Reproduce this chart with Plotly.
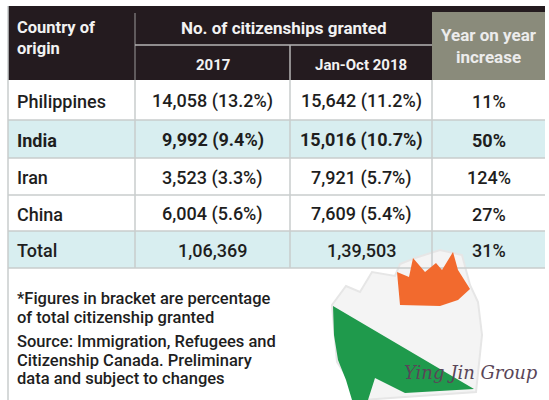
import plotly.graph_objects as go

# ---- data ----
countries = ["Philippines", "India", "Iran", "China", "Total"]
granted_2017 = [14058, 9992, 3523, 6004, 106369]
pct_2017 = [13.2, 9.4, 3.3, 5.6, None]
granted_2018 = [15642, 15016, 7921, 7609, 139503]
pct_2018 = [11.2, 10.7, 5.7, 5.4, None]
yoy_increase = [11, 50, 124, 27, 31]
highlight_rows = ["India", "Total"]
bold_rows = ["India"]

col_headers = ["2017", "Jan-Oct 2018"]
footnotes = [
    "*Figures in bracket are percentage",
    "of total citizenship granted",
    "Source: Immigration, Refugees and",
    "Citizenship Canada. Preliminary",
    "data and subject to changes",
]


def indian_format(n):
    s = str(n)
    if len(s) <= 3:
        return s
    last3 = s[-3:]
    rest = s[:-3]
    groups = []
    while len(rest) > 2:
        groups.insert(0, rest[-2:])
        rest = rest[:-2]
    if rest:
        groups.insert(0, rest)
    return ",".join(groups) + "," + last3


def cell(n, p):
    t = indian_format(n)
    if p is not None:
        t += f" ({p}%)"
    return t


# ---- layout geometry (pixels) ----
W, H = 549, 400
col_x = [8, 135, 290, 432, 545]
row_y = [80, 120, 158, 195, 231, 268]
HEADER_DARK = "#241b1f"
HEADER_GRAY = "#8a8b7b"
CYAN = "#d8eef0"
GRID = "#c9cccc"
TXT = "#1e1e1e"
HTXT = "#f2f2f2"
FONT = "Roboto, 'Noto Sans', sans-serif"

fig = go.Figure()
shapes = []
ann = []

# header backgrounds
shapes.append(dict(type="rect", x0=col_x[0], x1=col_x[4], y0=6, y1=80,
                   fillcolor=HEADER_DARK, line_width=0, layer="below"))
shapes.append(dict(type="rect", x0=col_x[3], x1=col_x[4], y0=12, y1=80,
                   fillcolor=HEADER_GRAY, line_width=0, layer="below"))
# header dividers
shapes.append(dict(type="line", x0=col_x[1], x1=col_x[1], y0=13, y1=80,
                   line=dict(color="#9a9a9a", width=1)))
shapes.append(dict(type="line", x0=col_x[1], x1=col_x[3], y0=45, y1=45,
                   line=dict(color="#b5b5b5", width=1.5)))
shapes.append(dict(type="line", x0=col_x[2], x1=col_x[2], y0=45, y1=80,
                   line=dict(color="#b5b5b5", width=1.5)))

# data row backgrounds
for i, c in enumerate(countries):
    if c in highlight_rows:
        shapes.append(dict(type="rect", x0=col_x[0], x1=col_x[4], y0=row_y[i], y1=row_y[i + 1],
                           fillcolor=CYAN, line_width=0, layer="below"))
# grid lines
for y in row_y[1:]:
    shapes.append(dict(type="line", x0=col_x[0], x1=col_x[4], y0=y, y1=y,
                       line=dict(color=GRID, width=1.5)))
for x in col_x[1:4]:
    shapes.append(dict(type="line", x0=x, x1=x, y0=80, y1=268,
                       line=dict(color=GRID, width=1.5)))
shapes.append(dict(type="line", x0=col_x[0], x1=col_x[0], y0=6, y1=400,
                   line=dict(color=GRID, width=1.5)))

# header text
ann += [
    dict(x=15, y=38, text="<b>Country of<br>origin</b>", xanchor="left", align="left",
         font=dict(size=16.5, color=HTXT)),
    dict(x=(col_x[1] + col_x[3]) / 2, y=28, text="<b>No. of citizenships granted</b>",
         font=dict(size=17, color=HTXT)),
    dict(x=(col_x[1] + col_x[2]) / 2, y=65, text=f"<b>{col_headers[0]}</b>",
         font=dict(size=15, color=HTXT)),
    dict(x=(col_x[2] + col_x[3]) / 2, y=65, text=f"<b>{col_headers[1]}</b>",
         font=dict(size=15, color=HTXT)),
    dict(x=(col_x[3] + col_x[4]) / 2, y=46, text="<b>Year on year<br>increase</b>",
         font=dict(size=17, color="#ececec")),
]

# data text
for i, c in enumerate(countries):
    yc = (row_y[i] + row_y[i + 1]) / 2 + 1
    wt = 700 if c in bold_rows else 500
    vals = [cell(granted_2017[i], pct_2017[i]), cell(granted_2018[i], pct_2018[i]),
            f"{yoy_increase[i]}%"]
    ann.append(dict(x=15, y=yc, text=c, xanchor="left",
                    font=dict(size=18, color=TXT, weight=wt)))
    for j, v in enumerate(vals):
        ann.append(dict(x=(col_x[j + 1] + col_x[j + 2]) / 2, y=yc, text=v,
                        font=dict(size=18, color=TXT, weight=wt)))

# maple leaf decoration
shapes.append(dict(type="path",
                   path="M 332 305 L 346 286 L 360 292 L 372 272 L 395 276 L 400 264 L 415 258 "
                        "L 440 250 L 462 255 L 470 285 L 478 302 L 482 335 L 476 392 L 362 400 "
                        "L 337 362 Z",
                   fillcolor="#f4f4f4", line=dict(color="#e6e6e6", width=2), layer="below"))
shapes.append(dict(type="path",
                   path="M 400 305 L 397 272 L 409 277 L 413 258 L 425 272 L 436 263 L 442 270 "
                        "L 453 252 L 458 270 L 470 289 L 458 300 L 440 306 Z",
                   fillcolor="#f26a2e", line_width=0))
shapes.append(dict(type="path",
                   path="M 333 306 L 474 389 L 405 393 L 375 378 L 368 400 L 352 400 L 346 380 "
                        "L 338 360 L 334 335 Z",
                   fillcolor="#1f9a4c", line_width=0))

ann.append(dict(x=540, y=372, text="<i>Ying Jin Group</i>", xanchor="right",
                font=dict(size=18, color="#5a4658", family="'DejaVu Serif', serif")))

# footnotes
foot_y = [298, 317, 341, 360, 378]
for t, y in zip(footnotes, foot_y):
    ann.append(dict(x=15, y=y, text=t, xanchor="left", font=dict(size=16.5, color=TXT, weight=500)))

for a in ann:
    a.setdefault("showarrow", False)
    a.setdefault("xref", "x")
    a.setdefault("yref", "y")
    a.setdefault("yanchor", "middle")
    a.setdefault("xanchor", "center")
    a["font"].setdefault("family", FONT)

fig.update_layout(
    width=W, height=H, margin=dict(l=0, r=0, t=0, b=0),
    paper_bgcolor="white", plot_bgcolor="white",
    xaxis=dict(range=[0, W], visible=False, fixedrange=True),
    yaxis=dict(range=[H, 0], visible=False, fixedrange=True),
    shapes=shapes, annotations=ann, showlegend=False,
)
fig.write_html("out.html", config={"displayModeBar": False},
               post_script="document.body.style.margin='0px';document.body.style.overflow='hidden';")
